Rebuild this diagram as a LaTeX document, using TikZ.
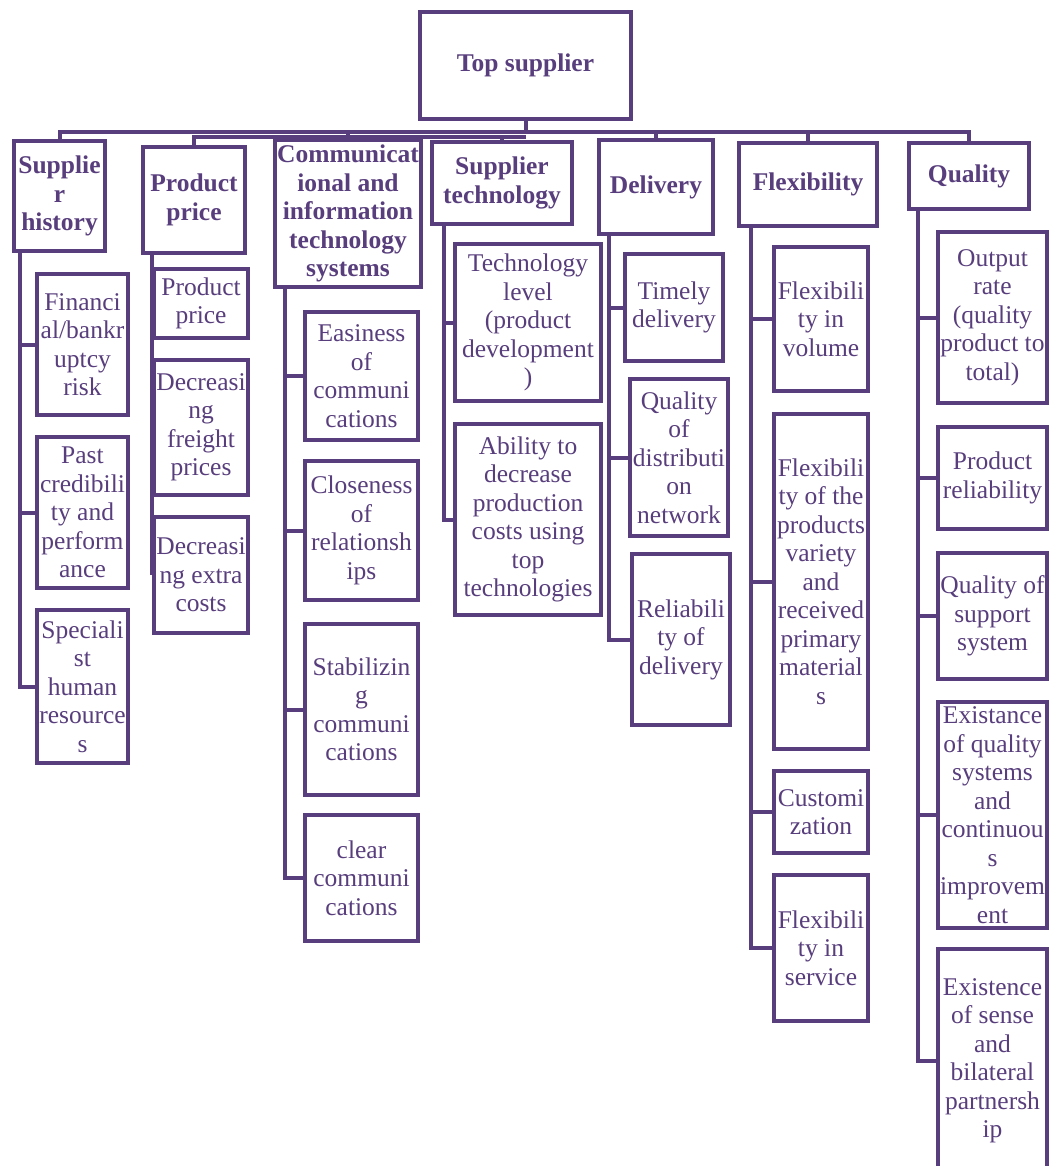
\documentclass[tikz,border=0pt]{standalone}
\usepackage{fontspec}
\setmainfont{Liberation Serif}
\definecolor{plum}{RGB}{88,62,124}

\begin{document}
\begin{tikzpicture}[x=1pt,y=-1pt,color=plum,line width=4pt]
    \tikzstyle{box}=[rectangle,draw=plum,fill=white,line width=4pt,inner sep=0pt,align=center,text=plum,font=\fontsize{25.5}{28.5}\selectfont]
    \tikzstyle{head}=[box,font=\bfseries\fontsize{25.5}{28.5}\selectfont]
    \useasboundingbox (0,0) rectangle (1051,1166);

    \node[head,minimum width=211pt,minimum height=107pt] (top) at (525.5,65.5) {Top supplier};

    \foreach \n/\x/\y/\w/\h/\txt in {1/59.5/196/91/110/{Supplie\\r\\history},
            2/194/200/102/106/{Product\\price},
            3/348/213.5/146/147/{Communicat\\ional and\\information\\technology\\systems},
            4/502/183/140/82/{Supplier\\technology},
            5/656/187/114/94/{Delivery},
            6/808/184.5/138/83/{Flexibility},
            7/969/176/120/66/{Quality}}
        \node[head,minimum width=\w pt,minimum height=\h pt] (H-\n) at (\x,\y) {\txt};

    \foreach \c/\m/\x/\y/\w/\h/\txt in {1/1/82.5/344.5/91/141/{Financi\\al/bankr\\uptcy\\risk},
            1/2/82.5/512.5/91/151/{Past\\credibili\\ty and\\perform\\ance},
            1/3/82.5/686.5/91/153/{Speciali\\st\\human\\resource\\s},
            2/1/201/303.5/94/69/{Product\\price},
            2/2/201/427.5/94/135/{Decreasi\\ng\\freight\\prices},
            2/3/201/575/94/116/{Decreasi\\ng extra\\costs},
            3/1/361.5/376/113/128/{Easiness\\of\\communi\\cations},
            3/2/361.5/530.5/113/139/{Closeness\\of\\relationsh\\ips},
            3/3/361.5/709.5/113/171/{Stabilizin\\g\\communi\\cations},
            3/4/361.5/878/113/126/{clear\\communi\\cations},
            4/1/528/322.5/146/157/{Technology\\level\\(product\\development\\)},
            4/2/528/519.5/146/191/{Ability to\\decrease\\production\\costs using\\top\\technologies},
            5/1/674/307.5/98/107/{Timely\\delivery},
            5/2/679/457.5/98/157/{Quality\\of\\distributi\\on\\network},
            5/3/681/639.5/98/171/{Reliabili\\ty of\\delivery},
            6/1/821/319/94/144/{Flexibili\\ty in\\volume},
            6/2/821/581.5/94/335/{Flexibili\\ty of the\\products\\variety\\and\\received\\primary\\material\\s},
            6/3/821/812/94/82/{Customi\\zation},
            6/4/821/948/94/146/{Flexibili\\ty in\\service},
            7/1/992.5/317.5/109/171/{Output\\rate\\(quality\\product to\\total)},
            7/2/992.5/478/109/102/{Product\\reliability},
            7/3/992.5/616/109/126/{Quality of\\support\\system},
            7/4/992.5/815/109/226/{Existance\\of quality\\systems\\and\\continuou\\s\\improvem\\ent},
            7/5/992.5/1061/109/224/{Existence\\of sense\\and\\bilateral\\partnersh\\ip}}
        \node[box,minimum width=\w pt,minimum height=\h pt] (C-\c-\m) at (\x,\y) {\txt};

    % bus under the top box
    \coordinate (bus) at (0,132);
    \coordinate (bus2) at (0,137);
    \draw (top.south) -- (top.south |- bus);
    \draw (H-1.north) -- (H-1.north |- bus) -- (H-7.north |- bus) -- (H-7.north);
    \foreach \n in {3,5,6}
        \draw (H-\n.north) -- (H-\n.north |- bus);
    \draw (H-2.north) -- (H-2.north |- bus2) -- (top.south |- bus2);
    \draw (H-4.north) -- (H-4.north |- bus2);

    % spines
    \foreach \n/\s/\last in {1/8/3, 2/11/3, 3/12/4, 4/14/2, 5/12/3, 6/14/4, 7/11/5} {
        \coordinate (P-\n) at ([xshift=\s pt]H-\n.south west);
        \draw (P-\n) |- (C-\n-\last.west);
    }
    \foreach \n/\m in {1/1, 1/2, 3/1, 3/2, 3/3, 4/1, 5/1, 5/2, 6/1, 6/2, 6/3, 7/1, 7/2, 7/3, 7/4}
        \draw (P-\n |- C-\n-\m.west) -- (C-\n-\m.west);
\end{tikzpicture}
\end{document}
